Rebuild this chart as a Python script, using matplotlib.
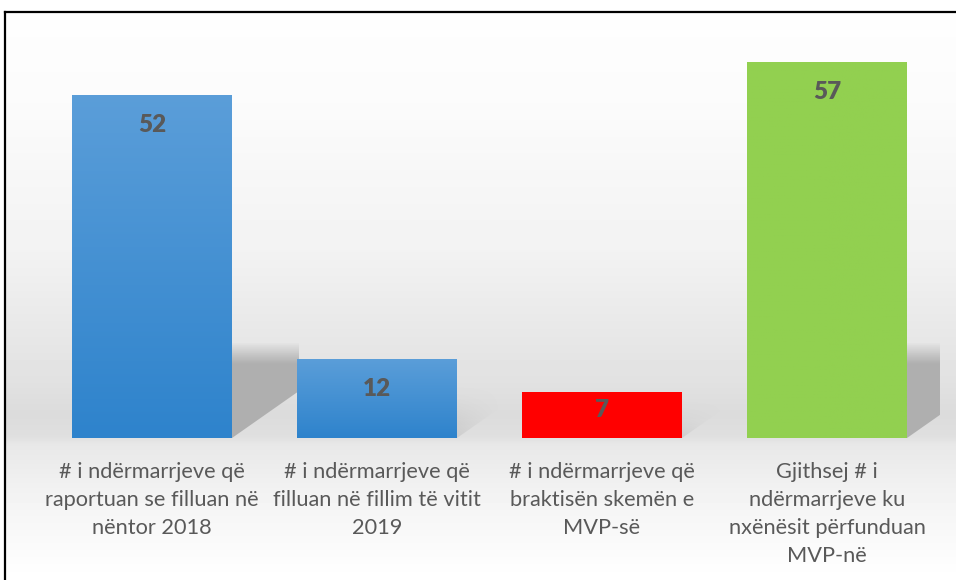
import matplotlib
matplotlib.use("Agg")
import matplotlib.pyplot as plt
import numpy as np
from matplotlib.patches import Polygon
from matplotlib.colors import LinearSegmentedColormap

categories = ["# i ndërmarrjeve që\nraportuan se filluan në\nnëntor 2018",
              "# i ndërmarrjeve që\nfilluan në fillim të vitit\n2019",
              "# i ndërmarrjeve që\nbraktisën skemën e\nMVP-së",
              "Gjithsej # i\nndërmarrjeve ku\nnxënësit përfunduan\nMVP-në"]
values = [52, 12, 7, 57]
top_colors = ["#5b9ed9", "#5b9ed9", "#ff0000", "#92d050"]
bottom_colors = ["#2e83cc", "#2e83cc", "#ff0000", "#92d050"]

FONT = "Lato"
W, H = 956, 580
fig = plt.figure(figsize=(W / 100, H / 100), dpi=100)
fig.patch.set_facecolor("white")

# background gradient
bg = fig.add_axes([0, 0, 1, 1])
bg.set_xlim(0, W)
bg.set_ylim(H, 0)
bg.axis("off")
stops_y = [12, 100, 250, 380, 415, 436, 446, 500, 560, 580]
stops_v = [0.995, 0.985, 0.95, 0.885, 0.86, 0.875, 0.91, 0.955, 0.99, 1.0]
ys = np.arange(12, 581)
vals = np.interp(ys, stops_y, stops_v)
img = np.repeat(vals[:, None], 8, axis=1)
bg.imshow(img, cmap="gray", vmin=0, vmax=1, extent=[6, W, 580, 12], aspect="auto",
          interpolation="nearest", resample=False)
bg.plot([5.5, 5.5], [580, 12], color="black", lw=1.6, solid_capstyle="projecting")
bg.plot([5.5, W], [12, 12], color="black", lw=1.6, solid_capstyle="projecting")

# main axes
ax = fig.add_axes([39.5 / W, 142 / H, 900 / W, 396 / H])
ax.set_xlim(-0.5, 3.5)
ax.set_ylim(0, 60)
ax.patch.set_alpha(0)
for s in ax.spines.values():
    s.set_visible(False)
ax.set_yticks([])

bw = 0.711
x = np.arange(len(values))
px_per_unit = 396 / 60

# shadows (soft, perspective-like)
sw = 0.3
rise = sw * 225 * 0.7 / px_per_unit
for xi, v in zip(x, values):
    r = xi + bw / 2
    tall = v > 20
    sh_top = 12.8 if tall else min(v * 0.45, 12.8)
    a = 0.95 if tall else 0.35
    blur = 1.6 if tall else 3.0
    poly = Polygon([(r, 0), (r, sh_top + blur), (r + sw, sh_top + blur), (r + sw, rise)],
                   closed=True, facecolor="none", edgecolor="none")
    ax.add_patch(poly)
    yy = np.linspace(0, sh_top + blur, 200)
    alpha = np.clip((sh_top + blur - yy) / (2 * blur), 0, 1) * a
    if not tall:
        xx = np.linspace(0, 1, 60)
        alpha2 = alpha[:, None] * np.clip(1 - xx[None, :] * 1.6, 0, 1) * np.clip(1 - yy[:, None] / (sh_top + blur), 0, 1)
    else:
        alpha2 = np.repeat(alpha[:, None], 60, axis=1)
    rgba = np.zeros((200, 60, 4))
    rgba[..., :3] = 0.68
    rgba[..., 3] = alpha2
    im = ax.imshow(rgba, extent=[r, r + sw, 0, sh_top + blur], origin="lower", aspect="auto", zorder=1)
    im.set_clip_path(poly)

bars = ax.bar(x, values, width=bw, color="none", zorder=2)
for b, tc, bc in zip(bars, top_colors, bottom_colors):
    cmap = LinearSegmentedColormap.from_list("g", [bc, tc])
    grad = np.linspace(0, 1, 256)[:, None]
    x0, y0 = b.get_x(), b.get_y()
    im = ax.imshow(grad, cmap=cmap, extent=[x0, x0 + b.get_width(), y0, y0 + b.get_height()],
                   origin="lower", aspect="auto", zorder=3)
    im.set_clip_path(b)
ax.set_xlim(-0.5, 3.5)
ax.set_ylim(0, 60)

for xi, v in zip(x, values):
    off = min(30, v * px_per_unit * 0.4)
    ax.annotate(str(v), (xi, v), xytext=(0, -off * 0.72), textcoords="offset points",
                ha="center", va="center", fontsize=17.5, fontweight="heavy", color="#595959",
                family=FONT, zorder=4)

ax.set_xticks(x)
ax.set_xticklabels(categories, fontsize=15.7, color="#595959", family=FONT,
                   linespacing=1.5, va="top")
ax.tick_params(axis="x", length=0, pad=17)

fig.savefig("out.png", dpi=100)
